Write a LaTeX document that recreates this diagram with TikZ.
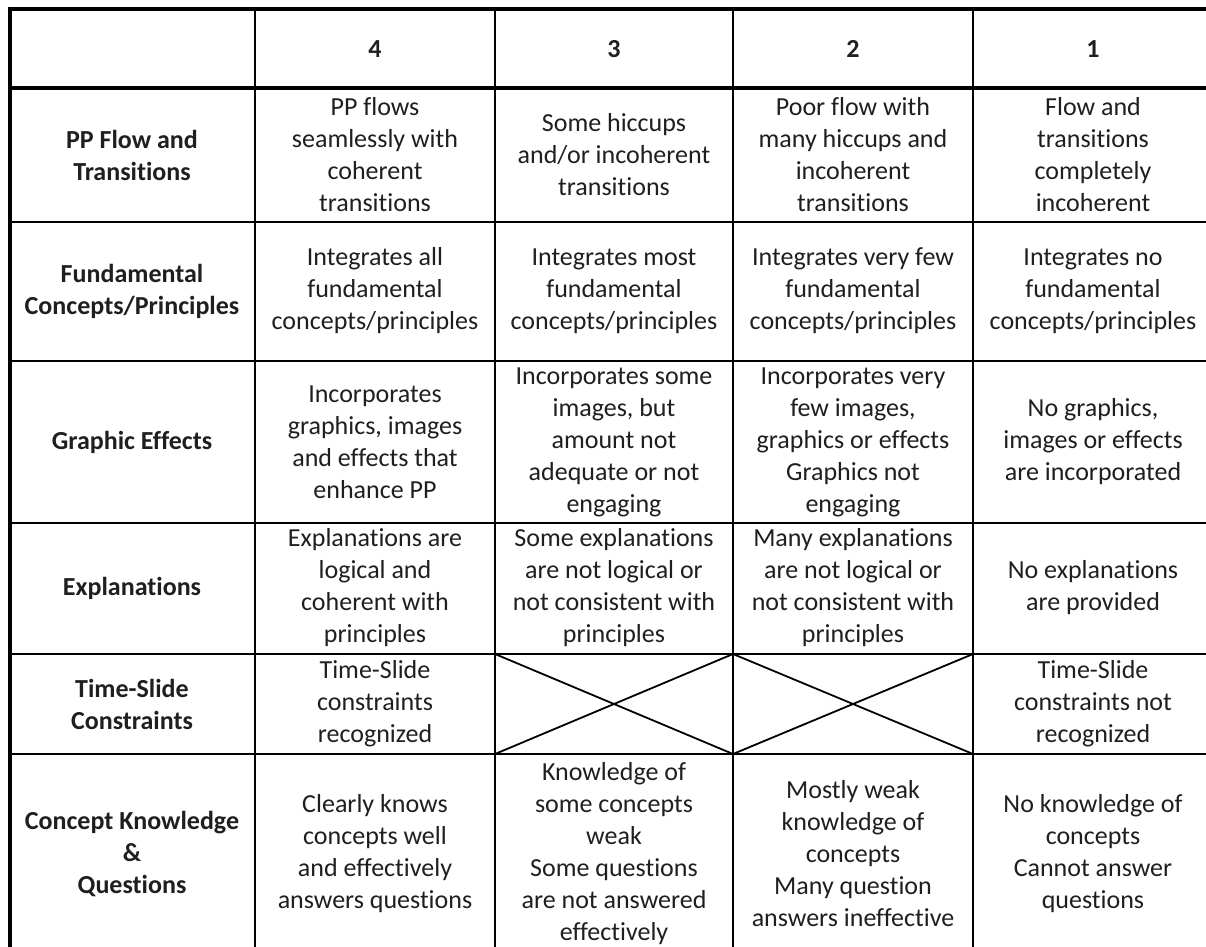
\documentclass[tikz,border=0pt]{standalone}
\usepackage{fontspec}
\setmainfont{Carlito}[RawFeature={-liga;-dlig;-clig}]
\begin{document}
\begin{tikzpicture}[x=0.5pt,y=-0.5pt,
  cell/.style={align=center,inner sep=0pt,font=\fontsize{13}{16}\selectfont,text=black!88},
  head/.style={cell,font=\fontsize{13}{16}\selectfont\bfseries},
  thin/.style={line width=0.9pt,black},
  thick/.style={line width=1.7pt,black}]
\useasboundingbox (0,0) rectangle (1206,947);
\fill[white] (0,0) rectangle (1206,947);
\begin{scope}
\clip (0,0) rectangle (1206,947);
% thin lines
\foreach \yy in {222,361,523,654,754}
  \draw[thin] (10,\yy) -- (1230,\yy);
\foreach \xx in {255,495,733,973}
  \draw[thin] (\xx,9) -- (\xx,980);
% thick lines
\draw[thick] (10,980) -- (10,9) -- (1230,9);
\draw[thick] (10,88) -- (1230,88);
% crossed cells
\coordinate (a1) at (495,654); \coordinate (a2) at (733,754);
\coordinate (a3) at (495,754); \coordinate (a4) at (733,654);
\coordinate (b1) at (733,654); \coordinate (b2) at (973,754);
\coordinate (b3) at (733,754); \coordinate (b4) at (973,654);
\draw[thin] (a1) -- (a2); \draw[thin] (a3) -- (a4);
\draw[thin] (b1) -- (b2); \draw[thin] (b3) -- (b4);
\end{scope}
% header
\node[head] (h4) at (375,49) {4};
\node[head] (h3) at (614,49) {3};
\node[head] (h2) at (853,49) {2};
\node[head] (h1) at (1093,49) {1};
% row 1
\node[head] (r1) at (132,155) {PP Flow and\\Transitions};
\node[cell] (c14) at (375,155) {PP flows\\seamlessly with\\coherent\\transitions};
\node[cell] (c13) at (614,155) {Some hiccups\\and/or incoherent\\transitions};
\node[cell] (c12) at (853,155) {Poor flow with\\many hiccups and\\incoherent\\transitions};
\node[cell] (c11) at (1093,155) {Flow and\\transitions\\completely\\incoherent};
% row 2
\node[head] (r2) at (132,291) {Fundamental\\Concepts/Principles};
\node[cell] (c24) at (375,291) {Integrates all\\fundamental\\concepts/principles};
\node[cell] (c23) at (614,291) {Integrates most\\fundamental\\concepts/principles};
\node[cell] (c22) at (853,291) {Integrates very few\\fundamental\\concepts/principles};
\node[cell] (c21) at (1093,291) {Integrates no\\fundamental\\concepts/principles};
% row 3
\node[head] (r3) at (132,442) {Graphic Effects};
\node[cell] (c34) at (375,442) {Incorporates\\graphics, images\\and effects that\\enhance PP};
\node[cell] (c33) at (614,442) {Incorporates some\\images, but\\amount not\\adequate or not\\engaging};
\node[cell] (c32) at (853,442) {Incorporates very\\few images,\\graphics or effects\\Graphics not\\engaging};
\node[cell] (c31) at (1093,442) {No graphics,\\images or effects\\are incorporated};
% row 4
\node[head] (r4) at (132,588) {Explanations};
\node[cell] (c44) at (375,588) {Explanations are\\logical and\\coherent with\\principles};
\node[cell] (c43) at (614,588) {Some explanations\\are not logical or\\not consistent with\\principles};
\node[cell] (c42) at (853,588) {Many explanations\\are not logical or\\not consistent with\\principles};
\node[cell] (c41) at (1093,588) {No explanations\\are provided};
% row 5
\node[head] (r5) at (132,704) {Time-Slide\\Constraints};
\node[cell] (c54) at (375,704) {Time-Slide\\constraints\\recognized};
\node[cell] (c51) at (1093,704) {Time-Slide\\constraints not\\recognized};
% row 6
\node[head] (r6) at (132,854) {Concept Knowledge\\\&\\Questions};
\node[cell] (c64) at (375,854) {Clearly knows\\concepts well\\and effectively\\answers questions};
\node[cell] (c63) at (614,854) {Knowledge of\\some concepts\\weak\\Some questions\\are not answered\\effectively};
\node[cell] (c62) at (853,854) {Mostly weak\\knowledge of\\concepts\\Many question\\answers ineffective};
\node[cell] (c61) at (1093,854) {No knowledge of\\concepts\\Cannot answer\\questions};
\end{tikzpicture}
\end{document}
